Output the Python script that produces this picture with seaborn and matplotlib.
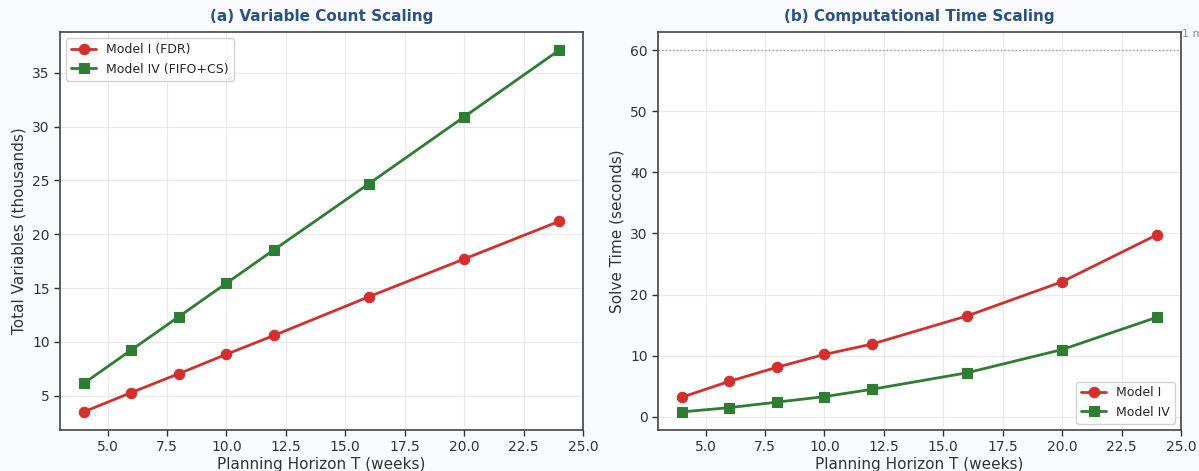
import numpy as np
import pandas as pd
import matplotlib
matplotlib.use("Agg")
import matplotlib.pyplot as plt
import seaborn as sns

# ---- data ----
horizon = [4, 6, 8, 10, 12, 16, 20, 24]
vars_model1 = [3.5, 5.3, 7.05, 8.85, 10.6, 14.2, 17.7, 21.2]
vars_model4 = [6.15, 9.25, 12.35, 15.45, 18.55, 24.7, 30.9, 37.1]
time_model1 = [3.2, 5.8, 8.1, 10.2, 11.9, 16.5, 22.1, 29.8]
time_model4 = [0.8, 1.5, 2.4, 3.3, 4.5, 7.2, 11.0, 16.3]
time_limit = 60

sns.set_theme(style="whitegrid")
plt.rcParams['font.family'] = ['DejaVu Sans']

RED = '#d32f2f'
GREEN = '#2e7d32'
TITLE_C = '#2c5282'

fig = plt.figure(figsize=(11.99, 4.71), dpi=100, facecolor='#f8fafd')
ax1 = fig.add_axes([60/1199, 1 - 430/471, 523/1199, 398/471])
ax2 = fig.add_axes([658/1199, 1 - 430/471, 523/1199, 398/471])

df1 = pd.DataFrame({
    'T': horizon * 2,
    'val': vars_model1 + vars_model4,
    'model': ['Model I (FDR)'] * len(horizon) + ['Model IV (FIFO+CS)'] * len(horizon),
})
df2 = pd.DataFrame({
    'T': horizon * 2,
    'val': time_model1 + time_model4,
    'model': ['Model I'] * len(horizon) + ['Model IV'] * len(horizon),
})

for ax, df, pal in [(ax1, df1, {'Model I (FDR)': RED, 'Model IV (FIFO+CS)': GREEN}),
                    (ax2, df2, {'Model I': RED, 'Model IV': GREEN})]:
    sns.lineplot(data=df, x='T', y='val', hue='model', style='model',
                 markers={k: m for k, m in zip(pal.keys(), ['o', 's'])},
                 dashes=False, palette=pal, linewidth=2, markersize=7.5,
                 ax=ax)
    for ln in ax.lines:
        ln.set_markeredgecolor(ln.get_color())
        ln.set_markeredgewidth(0.8)
    ax.set_facecolor('white')
    for s in ax.spines.values():
        s.set_visible(True)
        s.set_color('#444444')
        s.set_linewidth(1.2)
    ax.grid(True, color='#dddddd', alpha=0.6, linewidth=0.8)
    ax.tick_params(axis='both', labelsize=10, colors='#333333', length=4,
                   width=1, direction='out', bottom=True, left=True)
    ax.set_xlabel('Planning Horizon T (weeks)', fontsize=11, color='#333333', labelpad=2)

ax2.axhline(time_limit, color='#999999', linestyle=':', linewidth=1)
ax2.text(25.05, 61.8, '1 min limit', fontsize=8, color='#888888', va='bottom', ha='left')

ax1.set_ylabel('Total Variables (thousands)', fontsize=11, color='#333333')
ax2.set_ylabel('Solve Time (seconds)', fontsize=11, color='#333333')
ax1.set_title('(a) Variable Count Scaling', fontsize=11, fontweight='bold', color=TITLE_C, pad=8)
ax2.set_title('(b) Computational Time Scaling', fontsize=11, fontweight='bold', color=TITLE_C, pad=8)

ax1.set_yticks([5, 10, 15, 20, 25, 30, 35])
ax2.set_yticks([0, 10, 20, 30, 40, 50, 60])
for ax in (ax1, ax2):
    ax.set_xticks([5.0, 7.5, 10.0, 12.5, 15.0, 17.5, 20.0, 22.5, 25.0])
    ax.set_xticklabels(['5.0', '7.5', '10.0', '12.5', '15.0', '17.5', '20.0', '22.5', '25.0'])
    ax.set_xlim(3, 25)

for ax, loc in [(ax1, 'upper left'), (ax2, 'lower right')]:
    leg = ax.legend(loc=loc, fontsize=9, frameon=True, edgecolor='#cccccc', framealpha=0.9)
    for h in leg.legend_handles:
        h.set_markeredgecolor(h.get_color())
        h.set_markersize(7.5)

fig.savefig('out.png', dpi=100, facecolor=fig.get_facecolor())
